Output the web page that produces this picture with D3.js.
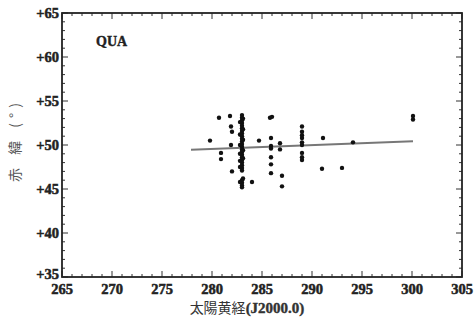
<!DOCTYPE html>
<html><head><meta charset="utf-8">
<script src="https://cdn.jsdelivr.net/npm/d3@7"></script>
<style>body{margin:0;background:#fff;}svg{display:block;}</style>
</head><body>
<svg id="c" width="474" height="322"></svg>
<script>
const lonVals = [279.8,280.7,280.9,280.9,281.8,281.9,282.0,281.9,282.0,
  283.0,283.0,283.0,283.0,283.0,283.0,283.0,283.0,283.0,283.0,283.0,283.0,283.0,283.0,283.0,283.0,283.0,283.0,283.0,283.0,283.0,283.0,283.0,283.0,283.0,283.0,
  282.8,282.8,282.8,282.8,282.8,282.8,282.8,
  283.1,283.1,283.1,283.1,283.1,283.1,
  284.0,284.7,285.8,286.0,285.9,285.9,285.9,285.9,285.9,285.9,286.8,286.8,287.0,287.0,
  289.0,289.0,289.0,289.0,289.0,289.0,289.0,289.0,289.0,
  291.1,291.0,293.0,294.1,300.1,300.1];
const decVals = [50.5,53.1,49.1,48.4,53.3,52.1,51.5,50.0,47.0,
  53.4,53.1,52.8,52.5,52.2,51.9,51.6,51.3,51.0,50.7,50.4,50.1,49.8,49.5,49.2,48.9,48.6,48.3,48.0,47.7,47.4,47.1,46.0,45.7,45.4,45.2,
  52.6,51.2,50.0,49.0,48.2,47.5,45.8,
  53.0,51.8,50.6,49.4,48.5,46.2,
  45.8,50.5,53.1,53.2,50.8,49.9,49.6,48.6,47.8,46.8,50.2,49.5,46.5,45.3,
  52.1,51.5,51.1,50.8,50.3,50.0,49.1,48.6,48.3,
  50.8,47.3,47.4,50.3,53.3,52.9];
const fitLon = [277.9, 300.1];
const fitDec = [49.45, 50.42];
const xTicks = [265,270,275,280,285,290,295,300,305];
const yTicks = [35,40,45,50,55,60,65];
const xLabel = "太陽黄経";
const xLabelTail = "(J2000.0)";
const yLabel = "赤 緯 (°)";
const panelLabel = "QUA";

const svg = d3.select("#c");
const L=62, R=462, T=13, B=277;
const x = d3.scaleLinear().domain([265,305]).range([L,R]);
const y = d3.scaleLinear().domain([35,65]).range([B,T]);
const serif = "Liberation Serif, Times New Roman, serif";

// ticks on all four sides (inside)
const minorX = d3.range(265,306,1), minorY = d3.range(35,66,1);
const g = svg.append("g").attr("stroke","#333").attr("stroke-width",1);
minorX.forEach(v=>{
  const len = v%5===0?6:3;
  g.append("line").attr("x1",x(v)).attr("x2",x(v)).attr("y1",B).attr("y2",B-len);
  g.append("line").attr("x1",x(v)).attr("x2",x(v)).attr("y1",T).attr("y2",T+len);
});
minorY.forEach(v=>{
  const len = v%5===0?6:3;
  g.append("line").attr("y1",y(v)).attr("y2",y(v)).attr("x1",L).attr("x2",L+len);
  g.append("line").attr("y1",y(v)).attr("y2",y(v)).attr("x1",R).attr("x2",R-len);
});
svg.append("rect").attr("x",L).attr("y",T).attr("width",R-L).attr("height",B-T)
  .attr("fill","none").attr("stroke","#222").attr("stroke-width",1.8);

// tick labels
svg.append("g").selectAll("text").data(xTicks).join("text")
  .attr("x",d=>x(d)).attr("y",B+17).attr("text-anchor","middle")
  .attr("font-family",serif).attr("font-weight","bold").attr("font-size",14.5)
  .attr("fill","#222").attr("stroke","#222").attr("stroke-width",0.5)
  .text(d=>d);
svg.append("g").selectAll("text").data(yTicks).join("text")
  .attr("x",L-3).attr("y",d=>y(d)+(d===35?2:5)).attr("text-anchor","end")
  .attr("font-family",serif).attr("font-weight","bold").attr("font-size",14.5)
  .attr("fill","#222").attr("stroke","#222").attr("stroke-width",0.5)
  .text(d=>"+"+d);

// axis titles
const xt = svg.append("text").attr("x",247).attr("y",313).attr("text-anchor","middle").attr("fill","#333");
xt.append("tspan").attr("font-family","Noto Sans CJK JP").attr("font-size",14).text(xLabel);
xt.append("tspan").attr("font-family",serif).attr("font-weight","bold").attr("font-size",15)
  .attr("stroke","#333").attr("stroke-width",0.4).text(xLabelTail);
svg.append("text").attr("transform","translate(20,140) rotate(-90)").attr("text-anchor","middle")
  .attr("font-family","Noto Sans CJK JP").attr("font-size",14).attr("fill","#555")
  .attr("letter-spacing",5).text(yLabel);

svg.append("text").attr("x",96).attr("y",46).attr("font-family",serif).attr("font-weight","bold")
  .attr("font-size",14).attr("fill","#222").attr("stroke","#222").attr("stroke-width",0.4).text(panelLabel);

// regression line
svg.append("line").attr("x1",x(fitLon[0])).attr("y1",y(fitDec[0])).attr("x2",x(fitLon[1])).attr("y2",y(fitDec[1]))
  .attr("stroke","#777").attr("stroke-width",2);

// points
svg.append("g").selectAll("circle").data(lonVals.map((d,i)=>[d,decVals[i]])).join("circle")
  .attr("cx",d=>x(d[0])).attr("cy",d=>y(d[1])).attr("r",2.2).attr("fill","#111");
</script>
</body></html>
